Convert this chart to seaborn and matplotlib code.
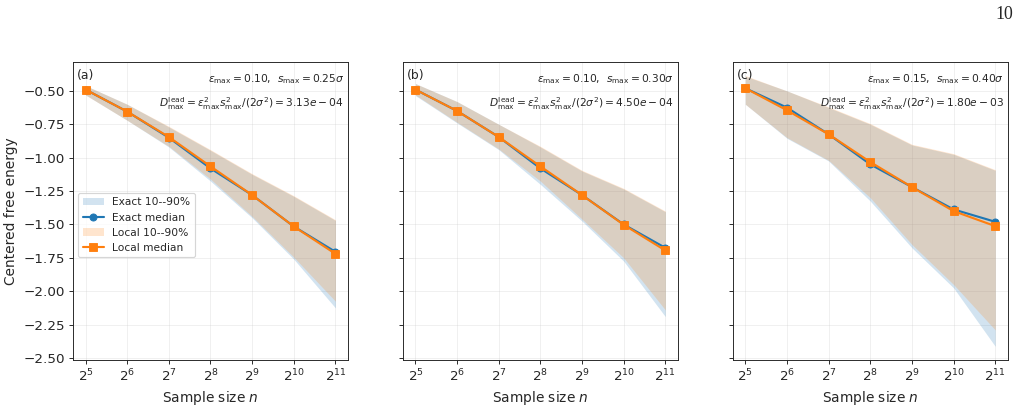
import numpy as np
import pandas as pd
import matplotlib
matplotlib.use("Agg")
import matplotlib.pyplot as plt
import seaborn as sns
from matplotlib.ticker import NullLocator

# Data (sample sizes n = 2^5 .. 2^11)
n_values = [32, 64, 128, 256, 512, 1024, 2048]

# (a) eps_max = 0.10, s_max = 0.25 sigma
exact_med_a = [-0.49, -0.655, -0.85, -1.08, -1.28, -1.515, -1.705]
local_med_a = [-0.49, -0.655, -0.845, -1.065, -1.28, -1.515, -1.72]
exact_lo_a = [-0.53, -0.72, -0.92, -1.175, -1.45, -1.76, -2.125]
exact_hi_a = [-0.46, -0.60, -0.77, -0.945, -1.125, -1.29, -1.47]
local_lo_a = [-0.53, -0.72, -0.915, -1.16, -1.44, -1.745, -2.075]
local_hi_a = [-0.46, -0.60, -0.765, -0.94, -1.12, -1.285, -1.465]

# (b) eps_max = 0.10, s_max = 0.30 sigma
exact_med_b = [-0.49, -0.65, -0.845, -1.08, -1.28, -1.50, -1.675]
local_med_b = [-0.49, -0.65, -0.845, -1.065, -1.28, -1.5025, -1.695]
exact_lo_b = [-0.535, -0.74, -0.94, -1.20, -1.475, -1.775, -2.19]
exact_hi_b = [-0.445, -0.58, -0.75, -0.92, -1.10, -1.235, -1.405]
local_lo_b = [-0.53, -0.735, -0.935, -1.175, -1.46, -1.75, -2.14]
local_hi_b = [-0.445, -0.58, -0.75, -0.915, -1.095, -1.23, -1.40]

# (c) eps_max = 0.15, s_max = 0.40 sigma
exact_med_c = [-0.48, -0.625, -0.825, -1.05, -1.22, -1.3875, -1.48]
local_med_c = [-0.48, -0.645, -0.825, -1.0325, -1.22, -1.40, -1.5125]
exact_lo_c = [-0.60, -0.855, -1.025, -1.325, -1.675, -1.975, -2.4125]
exact_hi_c = [-0.39, -0.50, -0.625, -0.75, -0.905, -0.975, -1.095]
local_lo_c = [-0.60, -0.85, -1.02, -1.30, -1.65, -1.95, -2.29]
local_hi_c = [-0.385, -0.50, -0.62, -0.745, -0.90, -0.97, -1.09]

panel_tags = ["(a)", "(b)", "(c)"]
eps_max = ["0.10", "0.10", "0.15"]
s_max = ["0.25", "0.30", "0.40"]
d_lead = ["3.13e-04", "4.50e-04", "1.80e-03"]

panels = [
    (exact_med_a, local_med_a, exact_lo_a, exact_hi_a, local_lo_a, local_hi_a),
    (exact_med_b, local_med_b, exact_lo_b, exact_hi_b, local_lo_b, local_hi_b),
    (exact_med_c, local_med_c, exact_lo_c, exact_hi_c, local_lo_c, local_hi_c),
]

sns.set_style("ticks")
plt.rcParams['font.family'] = ['DejaVu Sans']

c_exact = "#1f77b4"
c_local = "#ff7f0e"

fig, axes = plt.subplots(1, 3, sharey=True, figsize=(12, 4.8), dpi=85)
fig.subplots_adjust(left=0.0716, right=0.988, top=0.848, bottom=0.118, wspace=0.2)

for i, ax in enumerate(axes):
    em, lm, elo, ehi, llo, lhi = panels[i]
    df = pd.DataFrame({"n": n_values, "exact": em, "local": lm})

    ax.fill_between(n_values, elo, ehi, color=c_exact, alpha=0.2, lw=0,
                    label="Exact 10--90%")
    sns.lineplot(data=df, x="n", y="exact", ax=ax, color=c_exact, marker="o",
                 markersize=6, markeredgecolor=c_exact, lw=1.8,
                 errorbar=None, label="Exact median")
    ax.fill_between(n_values, llo, lhi, color=c_local, alpha=0.2, lw=0,
                    label="Local 10--90%")
    sns.lineplot(data=df, x="n", y="local", ax=ax, color=c_local, marker="s",
                 markersize=7, markeredgecolor=c_local, lw=1.8,
                 errorbar=None, label="Local median")

    ax.set_xscale("log", base=2)
    ax.set_xticks(n_values)
    ax.xaxis.set_minor_locator(NullLocator())
    ax.grid(True, alpha=0.3)
    ax.set_xlabel("Sample size $n$", fontsize=11.7)
    ax.set_ylabel("Centered free energy" if i == 0 else "", fontsize=11.7)
    ax.tick_params(labelsize=11.4)

    ax.text(0.015, 0.975, panel_tags[i], transform=ax.transAxes,
            ha="left", va="top", fontsize=10.5)
    ax.text(0.985, 0.965,
            r"$\varepsilon_{\max}=%s$,  $s_{\max}=%s\sigma$" % (eps_max[i], s_max[i]),
            transform=ax.transAxes, ha="right", va="top", fontsize=9)
    ax.text(0.985, 0.888,
            r"$D^{\rm lead}_{\max}=\varepsilon^2_{\max}s^2_{\max}/(2\sigma^2)=%s$"
            % d_lead[i],
            transform=ax.transAxes, ha="right", va="top", fontsize=9)

    if i == 0:
        ax.legend(loc="upper left", bbox_to_anchor=(0.0, 0.578), fontsize=9)
    else:
        leg = ax.get_legend()
        if leg:
            leg.remove()

fig.text(0.993, 0.985, "10", ha="right", va="top", fontsize=15,
         family="Liberation Serif")

fig.savefig("out.png", dpi=85)
